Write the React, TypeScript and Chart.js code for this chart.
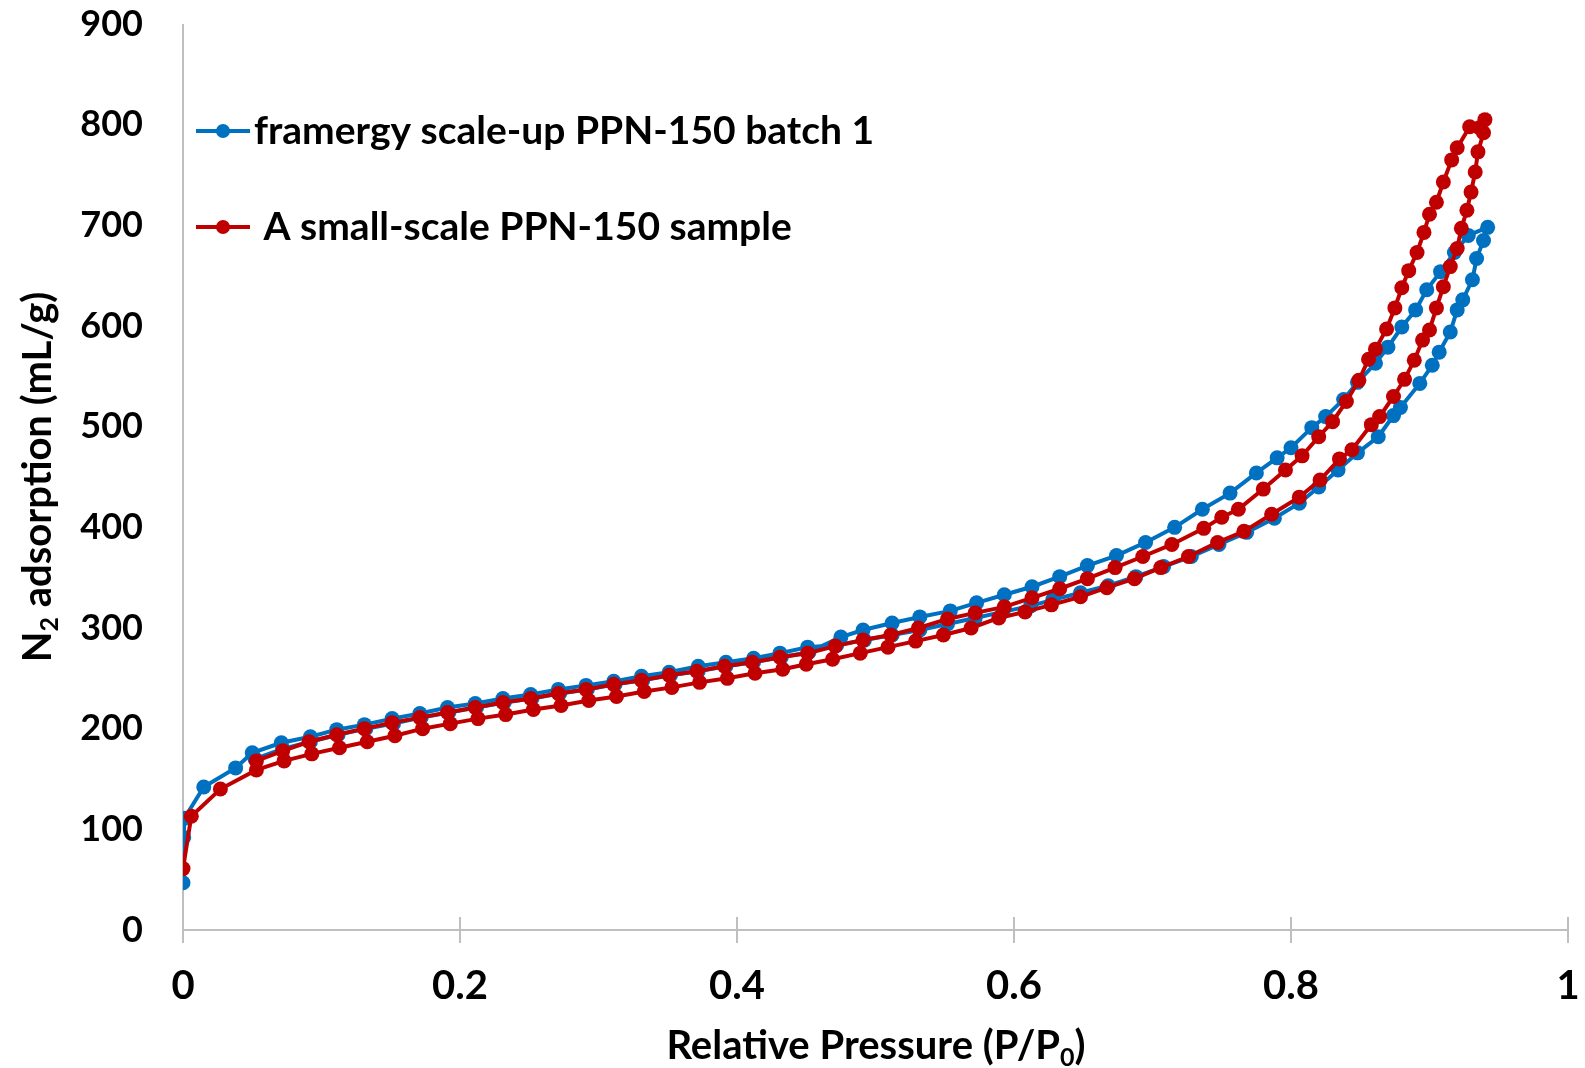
import React, { useEffect, useRef } from "react";
import { Chart, registerables } from "chart.js";

Chart.register(...registerables);

// ---------- data ----------
const blueAdsX = [0.000, 0.0005, 0.001, 0.015, 0.038, 0.050, 0.071, 0.092, 0.111, 0.131, 0.151, 0.171, 0.191, 0.211, 0.231, 0.251, 0.271, 0.291, 0.311, 0.331, 0.351, 0.372, 0.392, 0.412, 0.431, 0.451, 0.472, 0.492, 0.512, 0.532, 0.552, 0.572, 0.592, 0.612, 0.628, 0.648, 0.668, 0.688, 0.708, 0.728, 0.748, 0.768, 0.788, 0.806, 0.820, 0.834, 0.848, 0.863, 0.874, 0.879, 0.893, 0.902, 0.907, 0.915, 0.920, 0.924, 0.931, 0.934, 0.939, 0.942];
const blueAdsY = [47, 92, 111, 142, 161, 176, 186, 192, 199, 204, 210, 215, 221, 225, 230, 234, 239, 243, 247, 252, 256, 262, 266, 270, 275, 281, 283, 288, 293, 298, 304, 310, 316, 322, 328, 335, 342, 351, 361, 371, 383, 395, 409, 424, 440, 457, 474, 490, 511, 519, 543, 561, 574, 594, 616, 626, 646, 667, 685, 698];
const blueDesX = [0.928, 0.918, 0.908, 0.898, 0.890, 0.880, 0.870, 0.861, 0.848, 0.838, 0.825, 0.815, 0.800, 0.790, 0.775, 0.756, 0.736, 0.716, 0.695, 0.674, 0.653, 0.633, 0.613, 0.593, 0.573, 0.554, 0.532, 0.512, 0.491, 0.475, 0.452, 0.432, 0.412, 0.392, 0.372, 0.352, 0.332, 0.312, 0.292, 0.272, 0.252, 0.232, 0.212, 0.192, 0.172, 0.152, 0.132, 0.112, 0.092, 0.072, 0.052];
const blueDesY = [690, 673, 654, 636, 616, 599, 579, 563, 544, 527, 510, 499, 479, 469, 454, 434, 418, 400, 385, 372, 362, 351, 341, 333, 325, 317, 311, 305, 298, 291, 276, 271, 266, 262, 257, 253, 248, 244, 239, 235, 230, 226, 221, 216, 211, 205, 200, 194, 187, 180, 170];

const redAdsX = [0.000, 0.006, 0.027, 0.053, 0.073, 0.093, 0.113, 0.133, 0.153, 0.173, 0.193, 0.213, 0.233, 0.253, 0.273, 0.293, 0.313, 0.333, 0.353, 0.373, 0.393, 0.413, 0.433, 0.450, 0.469, 0.489, 0.509, 0.529, 0.549, 0.569, 0.589, 0.608, 0.627, 0.648, 0.667, 0.687, 0.706, 0.726, 0.747, 0.766, 0.786, 0.806, 0.821, 0.835, 0.844, 0.858, 0.864, 0.874, 0.882, 0.889, 0.895, 0.900, 0.905, 0.910, 0.915, 0.920, 0.923, 0.927, 0.930, 0.933, 0.935, 0.939, 0.940];
const redAdsY = [61, 113, 140, 159, 168, 175, 181, 187, 193, 200, 205, 210, 214, 219, 223, 228, 232, 237, 241, 246, 250, 255, 259, 264, 269, 275, 281, 287, 293, 300, 310, 316, 323, 331, 340, 349, 360, 371, 385, 396, 413, 430, 447, 468, 477, 502, 510, 530, 547, 566, 586, 596, 618, 639, 659, 677, 697, 715, 733, 753, 773, 792, 805];
const redDesX = [0.936, 0.929, 0.920, 0.916, 0.910, 0.905, 0.900, 0.896, 0.891, 0.885, 0.880, 0.875, 0.869, 0.861, 0.856, 0.849, 0.840, 0.830, 0.820, 0.808, 0.796, 0.780, 0.762, 0.750, 0.737, 0.714, 0.693, 0.673, 0.653, 0.633, 0.613, 0.593, 0.572, 0.552, 0.531, 0.511, 0.491, 0.471, 0.451, 0.431, 0.411, 0.391, 0.371, 0.351, 0.331, 0.311, 0.291, 0.271, 0.251, 0.231, 0.211, 0.191, 0.171, 0.151, 0.131, 0.111, 0.091, 0.072, 0.053];
const redDesY = [797, 798, 777, 765, 743, 723, 711, 693, 673, 655, 638, 618, 597, 577, 567, 546, 525, 505, 490, 471, 457, 438, 418, 410, 399, 383, 371, 360, 349, 339, 330, 321, 315, 309, 300, 293, 288, 282, 275, 271, 266, 262, 257, 253, 248, 244, 239, 235, 230, 226, 221, 216, 211, 206, 200, 194, 187, 178, 168];

const seriesNames = ["framergy scale-up PPN-150 batch 1", " A small-scale PPN-150 sample"];
const xTickValues = [0, 0.2, 0.4, 0.6, 0.8, 1];
const yTitleParts = [{ t: "N" }, { t: "2", sub: true }, { t: " adsorption (mL/g)" }];
const xTitleParts = [{ t: "Relative Pressure (P/P" }, { t: "0", sub: true }, { t: ")" }];

// ---------- style ----------
const BLUE = "#0070C0";
const RED = "#C00000";
const AXIS = "#BFBFBF";
const FAMILY = "Lato, 'Open Sans', sans-serif";
const Y_TICK_FS = 36;
const X_TICK_FS = 40;
const TITLE_FS = 40;
const LEGEND_FS = 39;
const POINT_R = 7.5;

function pts(xs: number[], ys: number[]) {
  return xs.map((x, i) => ({ x, y: ys[i] }));
}

type Part = { t: string; sub?: boolean };

function drawParts(ctx: CanvasRenderingContext2D, parts: Part[], cx: number, cy: number, size: number) {
  const main = `bold ${size}px ${FAMILY}`;
  const sub = `bold ${Math.round(size * 0.62)}px ${FAMILY}`;
  let total = 0;
  const widths = parts.map((p) => {
    ctx.font = p.sub ? sub : main;
    const w = ctx.measureText(p.t).width;
    total += w;
    return w;
  });
  let x = cx - total / 2;
  ctx.textBaseline = "middle";
  ctx.textAlign = "left";
  ctx.fillStyle = "#000";
  parts.forEach((p, i) => {
    ctx.font = p.sub ? sub : main;
    ctx.fillText(p.t, x, p.sub ? cy + size * 0.3 : cy);
    x += widths[i];
  });
}

const decor = {
  id: "decor",
  beforeDatasetsDraw(chart: any) {
    const { ctx, scales } = chart;
    const xs = scales.x;
    const ys = scales.y;
    const x0 = xs.getPixelForValue(0);
    const y0 = ys.getPixelForValue(0);
    const yTop = ys.getPixelForValue(900);
    ctx.save();
    ctx.strokeStyle = AXIS;
    ctx.lineWidth = 2;
    ctx.beginPath();
    ctx.moveTo(x0, yTop);
    ctx.lineTo(x0, y0);
    ctx.moveTo(x0, y0);
    ctx.lineTo(xs.getPixelForValue(1), y0);
    xTickValues.forEach((v) => {
      const px = xs.getPixelForValue(v);
      ctx.moveTo(px, y0 - 13);
      ctx.lineTo(px, y0 + 13);
    });
    ctx.stroke();
    ctx.restore();
  },
  afterDraw(chart: any) {
    const { ctx } = chart;
    ctx.save();
    const colors = [BLUE, RED];
    const rowsY = [131, 227];
    seriesNames.forEach((name, i) => {
      const y = rowsY[i];
      ctx.strokeStyle = colors[i];
      ctx.lineWidth = 4;
      ctx.beginPath();
      ctx.moveTo(196, y);
      ctx.lineTo(250, y);
      ctx.stroke();
      ctx.fillStyle = colors[i];
      ctx.beginPath();
      ctx.arc(223, y, 7, 0, Math.PI * 2);
      ctx.fill();
      ctx.fillStyle = "#000";
      ctx.font = `bold ${LEGEND_FS}px ${FAMILY}`;
      ctx.textAlign = "left";
      ctx.textBaseline = "middle";
      ctx.fillText(name, 254, y);
    });
    drawParts(ctx, xTitleParts, 876, 1046, TITLE_FS);
    ctx.translate(38, 477);
    ctx.rotate(-Math.PI / 2);
    drawParts(ctx, yTitleParts, 0, 0, TITLE_FS);
    ctx.restore();
  },
};

function zeroPad(s: any) {
  s.paddingTop = 0;
  s.paddingBottom = 0;
  s.paddingLeft = 0;
  s.paddingRight = 0;
}

export default function App() {
  const ref = useRef<HTMLCanvasElement | null>(null);
  useEffect(() => {
    if (!ref.current) return;
    const chart = new Chart(ref.current, {
      type: "scatter",
      data: {
        datasets: [
          {
            label: seriesNames[0],
            data: [...pts(blueAdsX, blueAdsY), ...pts(blueDesX, blueDesY)],
            showLine: true,
            borderColor: BLUE,
            backgroundColor: BLUE,
            borderWidth: 4,
            pointRadius: POINT_R,
            pointBorderWidth: 0,
            order: 2,
          },
          {
            label: seriesNames[1],
            data: [...pts(redAdsX, redAdsY), ...pts(redDesX, redDesY)],
            showLine: true,
            borderColor: RED,
            backgroundColor: RED,
            borderWidth: 4,
            pointRadius: POINT_R,
            pointBorderWidth: 0,
            order: 1,
          },
        ],
      },
      options: {
        animation: false,
        responsive: false,
        devicePixelRatio: 1,
        layout: { padding: { left: 0, right: 17, top: 24, bottom: 0 } },
        plugins: { legend: { display: false }, tooltip: { enabled: false } },
        scales: {
          x: {
            type: "linear",
            min: 0,
            max: 1,
            afterFit: (s: any) => { s.height = 138; zeroPad(s); },
            grid: { display: false, drawTicks: false },
            border: { display: false },
            ticks: {
              stepSize: 0.2,
              padding: 32,
              color: "#000",
              font: { family: FAMILY, size: X_TICK_FS, weight: "bold" },
              callback: (v: any) => String(Math.round(Number(v) * 10) / 10),
            },
          },
          y: {
            type: "linear",
            min: 0,
            max: 900,
            afterFit: (s: any) => { s.width = 183; zeroPad(s); },
            grid: { display: false, drawTicks: false },
            border: { display: false },
            ticks: {
              stepSize: 100,
              padding: 40,
              color: "#000",
              font: { family: FAMILY, size: Y_TICK_FS, weight: "bold" },
            },
          },
        },
      },
      plugins: [decor],
    });
    return () => chart.destroy();
  }, []);
  return (
    <div style={{ position: "absolute", left: 0, top: 0, width: 1585, height: 1068, background: "#fff" }}>
      <canvas ref={ref} width={1585} height={1068} style={{ width: 1585, height: 1068 }} />
    </div>
  );
}
